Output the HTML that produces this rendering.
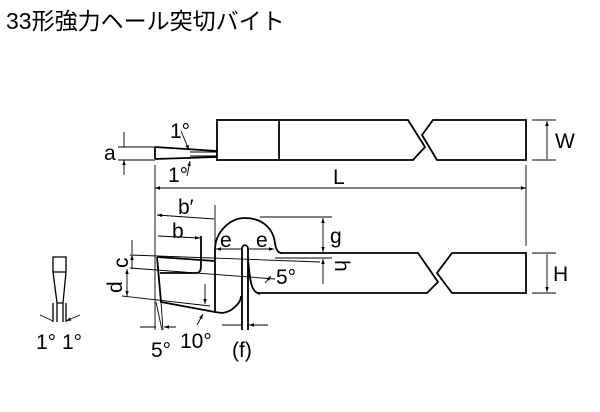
<!DOCTYPE html>
<html><head><meta charset="utf-8"><style>
body{margin:0;background:#fff;width:600px;height:412px;overflow:hidden}
svg{position:absolute;left:0;top:0}
text{font-family:"Liberation Sans","Noto Sans CJK JP",sans-serif;fill:#000}
</style></head><body>
<svg width="600" height="412" viewBox="0 0 600 412">
<defs><marker id="a" viewBox="0 0 10 10" refX="10" refY="5" markerWidth="8" markerHeight="5" orient="auto-start-reverse" markerUnits="userSpaceOnUse"><path d="M0,1.5L10,5L0,8.5z" fill="#000"/></marker></defs>
<text x="6" y="29" font-size="23">33形強力ヘール突切バイト</text>
<g fill="none" stroke="#000" stroke-width="1.8">
<path d="M155,147 L217,151 M155,159 L217,157 M155,147 L155,159"/>
<rect x="217" y="120" width="62" height="40"/>
<path d="M279,120 H408 L425,147 L413,160 H279"/>
<path d="M433,120 H526 V160 H437 L422,135 Z"/>
<path d="M280,253 H418 L438,282 L427,293 H257"/>
<path d="M452,253 H526 V293 H452 L437,273 Z"/>
<path d="M215,312 V250 C215,232 230,218 245,218 C262,218 273,228 275,243 C276,250 278,253 282,253"/>
<path d="M215,312 L222,313 C232,312 241,303 241,296"/>
<path d="M242,330 V249 C242,244 248,244 248,249 V330"/>
<path d="M248,258 C250,285 252,292 260,294"/>
<path d="M157,257 L215,261 M157,257 L161,302 L215,312"/>
<path d="M160,273 H196 C200,273 201,270 201,266 V236"/>
</g>
<g fill="none" stroke="#000" stroke-width="0.9">
<path d="M118,147 H155 M118,160 H155 M190,152 H217 M190,156 H217"/>
<path d="M124,132 V147 M124,175 V160" marker-end="url(#a)"/>
<path d="M181,131 L189,150" marker-end="url(#a)"/>
<path d="M187,176 L190,161" marker-end="url(#a)"/>
<path d="M155,165 V330 M526,165 V246"/>
<path d="M155,188 H526" marker-start="url(#a)" marker-end="url(#a)"/>
<path d="M532,120 H556 M532,160 H556 M532,253 H556 M532,293 H556"/>
<path d="M547,121 V159 M547,254 V292" marker-start="url(#a)" marker-end="url(#a)"/>
<path d="M215,205 V245"/>
<path d="M157,215 L214,219 M158,236 L200,238" marker-start="url(#a)" marker-end="url(#a)"/>
<path d="M216,249 H241 M249,249 H274" marker-start="url(#a)" marker-end="url(#a)"/>
<path d="M260,217 H332 M275,258 H332 M130,255 L320,262 M130,268 L275,279 M122,296 L210,306"/>
<path d="M323,218 V252" marker-start="url(#a)" marker-end="url(#a)"/>
<path d="M323,284 V259" marker-end="url(#a)"/>
<path d="M132,240 V254 M132,269 V255" marker-end="url(#a)"/>
<path d="M127,269 V296" marker-start="url(#a)" marker-end="url(#a)"/>
<path d="M265,283 L271,276" marker-end="url(#a)"/>
<path d="M205,284 L205,304" marker-end="url(#a)"/>
<path d="M197,325 L203,314" marker-end="url(#a)"/>
<path d="M156,302 L162,330 M161,302 L163,330"/>
<path d="M140,327 H156 M176,327 H164" marker-end="url(#a)"/>
<path d="M222,325 H241 M268,325 H249" marker-end="url(#a)"/>
<path d="M53,257 H66 V272 L63,303 H57 L53,272 Z M53,272 H66 M57,303 V322 M63,303 V322 M53,303 V322 M66,303 V322" stroke-width="1.3"/>
<path d="M40,315 L53,321 M80,315 L66,321" marker-end="url(#a)"/>
</g>
<g font-size="21">
<text x="104" y="160">a</text>
<text x="170" y="138">1°</text>
<text x="168" y="182">1°</text>
<text x="333" y="184">L</text>
<text x="555" y="148">W</text>
<text x="553" y="281">H</text>
<text x="178" y="214">b′</text>
<text x="172" y="238">b</text>
<text x="220" y="247">e</text>
<text x="256" y="247">e</text>
<text x="330" y="243">g</text>
<text transform="translate(335,260) rotate(90)">h</text>
<text x="276" y="284">5°</text>
<text transform="translate(128,268) rotate(-90)">c</text>
<text transform="translate(122,293) rotate(-90)">d</text>
<text x="151" y="357">5°</text>
<text x="180" y="348">10°</text>
<text x="232" y="357">(f)</text>
<text x="36" y="349">1°</text>
<text x="62" y="349">1°</text>
</g>
</svg>
</body></html>
